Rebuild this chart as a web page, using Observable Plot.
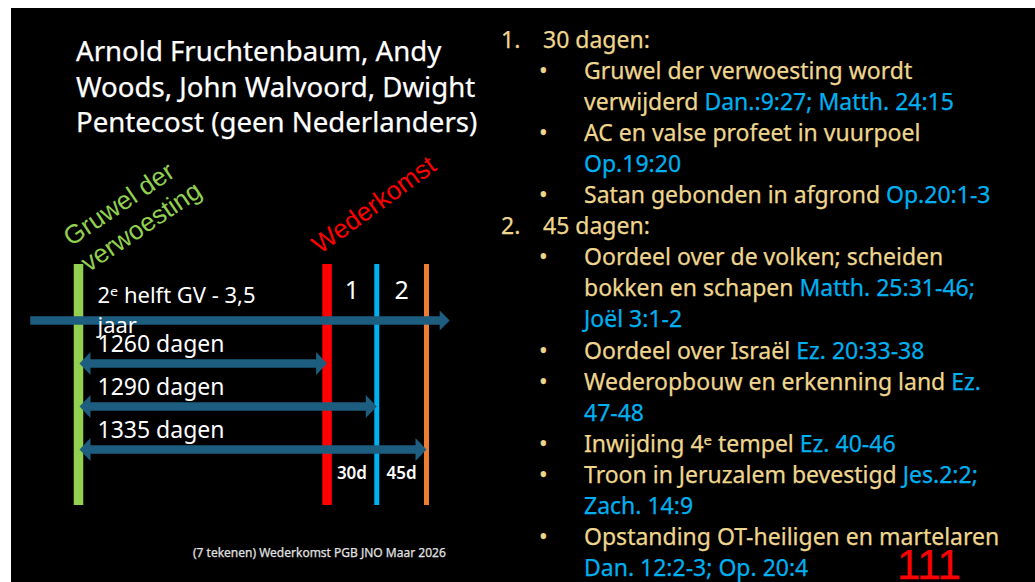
<!DOCTYPE html>
<html>
<head>
<meta charset="utf-8">
<script src="https://cdn.jsdelivr.net/npm/d3@7"></script>
<script src="https://cdn.jsdelivr.net/npm/@observablehq/plot@0.6"></script>
<style>
html, body { margin: 0; padding: 0; background: #ffffff; width: 1035px; height: 582px; overflow: hidden; }
#slide { position: absolute; left: 11px; top: 8px; width: 1024px; height: 574px; background: #000000; }
#chart { position: absolute; left: 0; top: 0; width: 1035px; height: 582px; }
.t { position: absolute; white-space: pre; font-family: "Noto Sans", sans-serif; line-height: 1; -webkit-text-stroke: 0.25px currentColor; }
.ref { color: #00b0f0; }
</style>
</head>
<body>
<div id="slide"></div>
<div id="chart"></div>
<div id="texts"></div>
<script>
// ---------- data ----------
const titleLines = ["Arnold Fruchtenbaum, Andy", "Woods, John Walvoord, Dwight", "Pentecost (geen Nederlanders)"];

// timeline events (days after the abomination of desolation)
const events = ["Gruwel der verwoesting", "Wederkomst", "Einde 30 dagen", "Einde 45 dagen"];
const eventDays = [0, 1260, 1290, 1335];
const eventLabels = ["Gruwel der\nverwoesting", "Wederkomst", "", ""];
// the drawing is schematic, not to scale: relative spacing of the event markers
const eventSpacing = [0, 5, 6, 7];

const timelineLabel = "2ᵉ helft GV - 3,5\njaar";
const timelineExtent = [-242, 1356];

const spanLabels = ["1260 dagen", "1290 dagen", "1335 dagen"];
const spanDays = [1260, 1290, 1335];

const periodNames = ["1", "2"];
const periodStart = [1260, 1290];
const periodEnd = [1290, 1335];
const periodLabels = ["30d", "45d"];

const listMarkers = ["1.", "•", "", "•", "", "•", "2.", "•", "", "", "•", "•", "", "•", "•", "", "•", ""];
const listLevels  = [0, 1, 1, 1, 1, 1, 0, 1, 1, 1, 1, 1, 1, 1, 1, 1, 1, 1];
const listText = [
  "30 dagen:",
  "Gruwel der verwoesting wordt",
  "verwijderd ",
  "AC en valse profeet in vuurpoel",
  "",
  "Satan gebonden in afgrond ",
  "45 dagen:",
  "Oordeel over de volken; scheiden",
  "bokken en schapen ",
  "",
  "Oordeel over Israël ",
  "Wederopbouw en erkenning land ",
  "",
  "Inwijding 4ᵉ tempel ",
  "Troon in Jeruzalem bevestigd ",
  "",
  "Opstanding OT-heiligen en martelaren",
  ""
];
const listRefs = [
  "", "", "Dan.:9:27; Matth. 24:15", "", "Op.19:20", "Op.20:1-3", "", "",
  "Matth. 25:31-46;", "Joël 3:1-2", "Ez. 20:33-38", "Ez.", "47-48", "Ez. 40-46",
  "Jes.2:2;", "Zach. 14:9", "", "Dan. 12:2-3; Op. 20:4"
];

const footer = "(7 tekenen) Wederkomst PGB JNO Maar 2026";
const pageNumber = "111";

// ---------- diagram ----------
const eventData = events.map((e, i) => ({event: e, day: eventDays[i], label: eventLabels[i]}));
const mainLine = [{start: timelineExtent[0], end: timelineExtent[1], lane: 0, label: timelineLabel}];
const spans = spanLabels.map((l, i) => ({label: l, start: eventDays[0], end: spanDays[i], lane: i + 1}));
const periods = periodNames.map((n, i) => ({name: n, mid: (periodStart[i] + periodEnd[i]) / 2, label: periodLabels[i]}));

const schematic = d3.scaleLinear().domain(eventDays).range(eventSpacing);

const ARROW = "#1d5e80";
const head = {draw(ctx, l, r) { ctx.moveTo(-r, 0); ctx.lineTo(0, -l); ctx.lineTo(r, 0); ctx.closePath(); }};
const BAR_TOP = -1.3, BAR_BOTTOM = 4.3;

const chart = Plot.plot({
  width: 1035, height: 582, margin: 0,
  x: {type: "linear", domain: [0, 7], range: [78, 426], transform: schematic, axis: null},
  y: {type: "linear", domain: [0, 3], range: [320, 449], axis: null},
  color: {type: "ordinal", domain: events, range: ["#92d050", "#ff0000", "#00b0f0", "#ed7d31"]},
  style: {background: "transparent", overflow: "visible", fontFamily: "Noto Sans"},
  marks: [
    Plot.ruleX(eventData.filter(d => d.day <= 1260), {x: "day", y1: BAR_TOP, y2: BAR_BOTTOM, stroke: "event", strokeWidth: 9.5}),
    Plot.ruleX(eventData.filter(d => d.day > 1260), {x: "day", y1: BAR_TOP, y2: BAR_BOTTOM, stroke: "event", strokeWidth: 5}),
    Plot.ruleY(mainLine, {x1: "start", x2: "end", y: "lane", stroke: ARROW, strokeWidth: 8.5, insetRight: 9}),
    Plot.vector(mainLine, {x: "end", y: "lane", rotate: 90, length: 10, r: 10, anchor: "end", shape: head, fill: ARROW, stroke: "none"}),
    Plot.ruleY(spans, {x1: "start", x2: "end", y: "lane", stroke: ARROW, strokeWidth: 8.5, insetLeft: 12, insetRight: 10}),
    Plot.vector(spans, {x: "end", y: "lane", rotate: 90, length: 11, r: 11.5, anchor: "end", shape: head, fill: ARROW, stroke: "none"}),
    Plot.vector(spans, {x: "start", y: "lane", rotate: -90, length: 11, r: 11.5, anchor: "end", shape: head, fill: ARROW, stroke: "none", dx: 1}),
    Plot.text(eventData.filter(d => d.day === 0), {x: "day", y: BAR_TOP, text: "label", fill: "event",
      rotate: -34, textAnchor: "start", lineAnchor: "bottom", lineHeight: 1.2, fontSize: 26,
      fontFamily: "Liberation Sans", dx: 10, dy: 8}),
    Plot.text(eventData.filter(d => d.day === 1260), {x: "day", y: BAR_TOP, text: "label", fill: "event",
      rotate: -36, textAnchor: "start", lineAnchor: "bottom", fontSize: 26,
      fontFamily: "Liberation Sans", dx: -7, dy: -10}),
    Plot.text(mainLine, {x: () => eventDays[0], y: "lane", text: "label", dx: 19, dy: 12, textAnchor: "start",
      lineAnchor: "bottom", lineHeight: 1.36, fontSize: 22, fill: "white"}),
    Plot.text(spans, {x: "start", y: "lane", text: "label", dx: 19, dy: -12, textAnchor: "start",
      lineAnchor: "bottom", fontSize: 23, fill: "white"}),
    Plot.text(periods, {x: "mid", y: () => 0, text: "name", dy: -22, lineAnchor: "bottom", fontSize: 25, fill: "white"}),
    Plot.text(periods, {x: "mid", y: () => 3, text: "label", dy: 29, lineAnchor: "bottom", fontSize: 17, fontWeight: 600, fill: "white"})
  ]
});
document.getElementById("chart").appendChild(chart);

// ---------- slide text ----------
const host = document.getElementById("texts");
function place(html, left, baseline, fs, color, family, asc) {
  const d = document.createElement("div");
  d.className = "t";
  d.style.left = left + "px";
  d.style.top = (baseline - asc * fs) + "px";
  d.style.fontSize = fs + "px";
  d.style.color = color;
  if (family) d.style.fontFamily = family;
  d.innerHTML = html;
  host.appendChild(d);
  return d;
}
const NOTO = 0.888, LIB = 0.8465;
titleLines.forEach((s, i) => place(s, 76, 62 + i * 35.5, 27.6, "#ffffff", null, NOTO));

const YEL = "#efd68e";
listText.forEach((s, i) => {
  const base = 48 + i * 31.1;
  const lvl = listLevels[i];
  if (listMarkers[i]) place(listMarkers[i], lvl === 0 ? 501 : 539, base, 23, YEL, null, NOTO);
  const html = (s ? s : "") + (listRefs[i] ? `<span class="ref">${listRefs[i]}</span>` : "");
  place(html, lvl === 0 ? 543 : 584, base, 23, YEL, null, NOTO);
});

place(footer, 193, 558, 12, "#e0e0e0", null, NOTO);
place(pageNumber, 897, 580, 42, "#ff0000", '"Liberation Sans", sans-serif', LIB);
</script>
</body>
</html>
